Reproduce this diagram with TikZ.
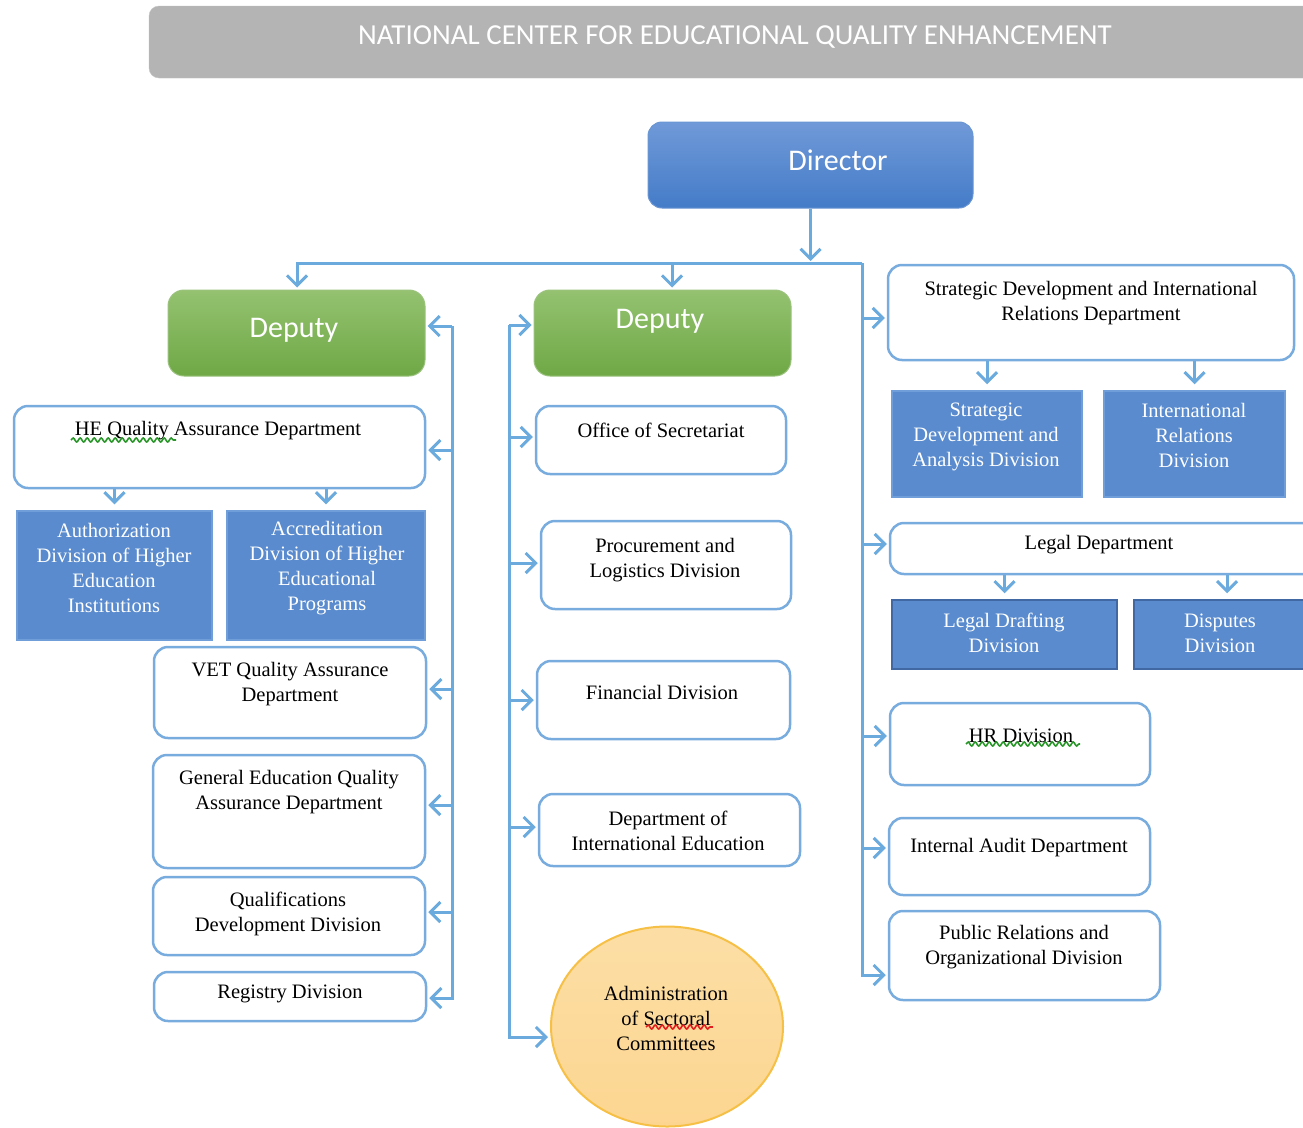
\documentclass[tikz,border=0pt]{standalone}
\usepackage{fontspec}
\setmainfont{Liberation Serif}
\newfontfamily\headfont{Carlito}
\usetikzlibrary{arrows.meta,shapes.geometric,decorations.pathmorphing}
\definecolor{linkblue}{RGB}{107,170,221}
\definecolor{frameblue}{RGB}{120,172,222}
\definecolor{divblue}{RGB}{89,139,206}
\definecolor{divline}{RGB}{112,158,216}
\definecolor{divdark}{RGB}{66,104,164}
\definecolor{dirtop}{RGB}{112,153,216}
\definecolor{dirbot}{RGB}{68,124,200}
\definecolor{deptop}{RGB}{148,194,112}
\definecolor{depbot}{RGB}{111,168,69}
\definecolor{headgray}{RGB}{180,180,180}
\definecolor{admtop}{RGB}{252,222,165}
\definecolor{admbot}{RGB}{252,214,145}
\definecolor{admline}{RGB}{246,192,70}
\definecolor{spellgreen}{RGB}{40,150,40}
\definecolor{spellred}{RGB}{225,30,30}
\begin{document}
\begin{tikzpicture}[x=1pt, y=-1pt, >={Straight Barb[length=10pt,width=20pt]},
    link/.style={->, draw=linkblue, line width=3pt, shorten >=2pt},
    sublink/.style={link, shorten >=6pt},
    unit/.style={draw=frameblue, line width=2.5pt, fill=white, rounded corners=14pt, inner sep=0pt},
    division/.style={draw=divline, line width=1.5pt, fill=divblue, inner sep=0pt},
    director/.style={draw=dirbot!80!white, line width=1pt, top color=dirtop, bottom color=dirbot, rounded corners=14pt, inner sep=0pt},
    deputy/.style={draw=depbot!70!white, line width=1pt, top color=deptop, bottom color=depbot, rounded corners=16pt, inner sep=0pt},
    txt/.style={align=center, font=\fontsize{20.5}{25}\selectfont},
    divtxt/.style={txt, text=white},
    headtxt/.style={text=white, font=\headfont\fontsize{30}{36}\selectfont},
    spell/.style={line width=1.6pt, decorate, decoration={snake, amplitude=2pt, segment length=7pt}}]
  \path[use as bounding box, fill=white] (0,0) rectangle (1303,1127);

  % title bar
  \node[draw=headgray!80!white, fill=headgray, rounded corners=10pt, minimum width=1173, minimum height=72] (title) at (735.5,42) {};
  \node[text=white, font=\headfont\fontsize{29}{34}\selectfont] (title-t) at (735,37) {NATIONAL CENTER FOR EDUCATIONAL QUALITY ENHANCEMENT};

  % director and deputies
  \node[director, minimum width=325, minimum height=86] (dir) at (810.5,165) {};
  \node[headtxt] (dir-t) at (838,160) {Director};
  \node[deputy, minimum width=257, minimum height=86] (dep1) at (296.5,333) {};
  \node[headtxt] (dep1-t) at (294,330) {Deputy};
  \node[deputy, minimum width=257, minimum height=86] (dep2) at (662.5,333) {};
  \node[headtxt] (dep2-t) at (660,321) {Deputy};

  % first deputy
  \node[unit, minimum width=411, minimum height=82] (he) at (219.5,447) {};
  \node[txt] (he-t) at (218,431) {HE Quality Assurance Department};
  \node[division, minimum width=195, minimum height=129] (auth) at (114.5,575.5) {};
  \node[divtxt] (auth-t) at (114,568) {Authorization\\Division of Higher\\Education\\Institutions};
  \node[division, minimum width=198, minimum height=129] (acc) at (326,575.5) {};
  \node[divtxt] (acc-t) at (327,568.5) {Accreditation\\Division of Higher\\Educational\\Programs};
  \node[unit, minimum width=272, minimum height=91] (vet) at (290,692.5) {};
  \node[txt] (vet-t) at (290,684.5) {VET Quality Assurance\\Department};
  \node[unit, minimum width=272, minimum height=113] (gen) at (289,811.5) {};
  \node[txt] (gen-t) at (289,792.5) {General Education Quality\\Assurance Department};
  \node[unit, minimum width=272, minimum height=78] (qual) at (289,916) {};
  \node[txt] (qual-t) at (288,913.5) {Qualifications\\Development Division};
  \node[unit, minimum width=272, minimum height=49] (reg) at (290,996.5) {};
  \node[txt] (reg-t) at (290,994) {Registry Division};

  % second deputy
  \node[unit, minimum width=250, minimum height=68] (off) at (661,440) {};
  \node[txt] (off-t) at (661,430) {Office of Secretariat};
  \node[unit, minimum width=250, minimum height=88] (proc) at (666,565) {};
  \node[txt] (proc-t) at (665,560) {Procurement and\\Logistics Division};
  \node[unit, minimum width=253, minimum height=78] (fin) at (663.5,700) {};
  \node[txt] (fin-t) at (662,692) {Financial Division};
  \node[unit, minimum width=261, minimum height=72] (die) at (669.5,830) {};
  \node[txt] (die-t) at (668,830.5) {Department of\\International Education};
  \node[ellipse, draw=admline, line width=2pt, top color=admtop, bottom color=admbot, minimum width=232, minimum height=200, inner sep=0pt] (adm) at (667,1026.5) {};
  \node[txt] (adm-t) at (666,1018) {Administration\\of Sectoral\\Committees};

  % director's own units
  \node[unit, minimum width=406, minimum height=95] (sd) at (1091,312.5) {};
  \node[txt] (sd-t) at (1091,303.5) {Strategic Development and International\\Relations Department};
  \node[division, minimum width=190, minimum height=106] (sdd) at (987,444) {};
  \node[divtxt] (sdd-t) at (986,436.5) {Strategic\\Development and\\Analysis Division};
  \node[division, minimum width=181, minimum height=106] (ird) at (1194.5,444) {};
  \node[divtxt] (ird-t) at (1194,435) {International\\Relations\\Division};
  \node[unit, minimum width=430, minimum height=51] (legal) at (1105,548.5) {};
  \node[txt] (legal-t) at (1099,545) {Legal Department};
  \node[division, draw=divdark, minimum width=225, minimum height=69] (ld) at (1004.5,634.5) {};
  \node[divtxt] (ld-t) at (1004,633) {Legal Drafting\\Division};
  \node[division, draw=divdark, minimum width=186, minimum height=69] (dis) at (1227,634.5) {};
  \node[divtxt] (dis-t) at (1220,633) {Disputes\\Division};
  \node[unit, minimum width=260, minimum height=82] (hr) at (1020,744) {};
  \node[txt] (hr-t) at (1021,736) {HR Division};
  \node[unit, minimum width=261, minimum height=77] (aud) at (1019.5,856.5) {};
  \node[txt] (aud-t) at (1019,848) {Internal Audit Department};
  \node[unit, minimum width=271, minimum height=89] (pr) at (1024.5,955.5) {};
  \node[txt] (pr-t) at (1024,947.5) {Public Relations and\\Organizational Division};

  % spelling marks
  \draw[spell, spellgreen] (71,440) -- (176,440);
  \draw[spell, spellred] (646,1027) -- (713,1027);
  \draw[spell, spellgreen] (966,744) -- (1080,744);

  % connectors
  \coordinate (jl) at (297,263);
  \coordinate (jm) at (672,263);
  \coordinate (jr) at (862,263);
  \coordinate (lb) at (452,326);
  \coordinate (mb) at (509,325);
  \draw[link] (dir.south) -- (dir.south |- jr);
  \draw[link] (jr) -- (jl) -- (jl |- dep1.north);
  \draw[link] (jm) -- (jm |- dep2.north);
  \foreach \n/\dy in {dep1/7, he/-3, vet/3.5, gen/6.5, qual/4, reg/-1.5}
    \draw[link] (lb) |- ([yshift=\dy pt]\n.east);
  \foreach \n/\dy in {dep2/8, off/3, proc/2, fin/0, die/3, adm/-10.5}
    \draw[link] (mb) |- ([yshift=\dy pt]\n.west);
  \foreach \n/\dy in {sd/-5.5, legal/4.5, hr/8, aud/8.5, pr/-19.5}
    \draw[link] (jr) |- ([yshift=\dy pt]\n.west);
  \foreach \a/\b in {he/auth, he/acc, sd/sdd, sd/ird, legal/ld, legal/dis}
    \draw[sublink] (\a.south -| \b.north) -- (\b.north);
\end{tikzpicture}
\end{document}
